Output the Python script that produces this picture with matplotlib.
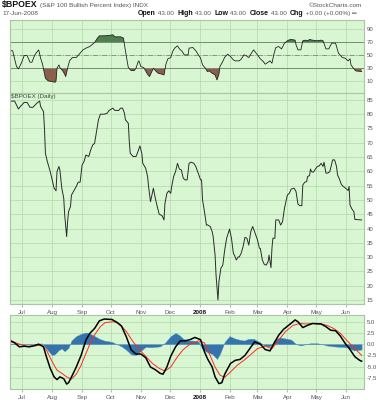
import matplotlib
matplotlib.use('Agg')
import matplotlib.pyplot as plt
import matplotlib.dates as mdates
import pandas as pd
import numpy as np

plt.rcParams['font.family'] = ['Liberation Sans', 'DejaVu Sans']

# ---------------- data ----------------
main_dates = ['2007-06-18','2007-06-23','2007-06-27','2007-06-29','2007-07-03','2007-07-06','2007-07-09','2007-07-12',
 '2007-07-16','2007-07-19','2007-07-20','2007-07-23','2007-07-24','2007-07-25','2007-07-27','2007-07-30','2007-08-01',
 '2007-08-03','2007-08-05','2007-08-06','2007-08-08','2007-08-09','2007-08-11','2007-08-13','2007-08-14','2007-08-16',
 '2007-08-17','2007-08-18','2007-08-20','2007-08-21','2007-08-24','2007-08-26','2007-08-28','2007-08-30','2007-09-01',
 '2007-09-03','2007-09-05','2007-09-08','2007-09-10','2007-09-12','2007-09-14','2007-09-16','2007-09-18','2007-09-20',
 '2007-09-24','2007-09-27','2007-09-29','2007-10-03','2007-10-05','2007-10-09','2007-10-11','2007-10-13','2007-10-15',
 '2007-10-16','2007-10-19','2007-10-20','2007-10-21','2007-10-24','2007-10-27','2007-10-29','2007-10-31','2007-11-02',
 '2007-11-03','2007-11-06','2007-11-08','2007-11-09','2007-11-11','2007-11-14','2007-11-16','2007-11-18','2007-11-20',
 '2007-11-23','2007-11-25','2007-11-26','2007-11-28','2007-11-30','2007-12-02','2007-12-03','2007-12-05','2007-12-07',
 '2007-12-09','2007-12-11','2007-12-13','2007-12-15','2007-12-17','2007-12-19','2007-12-21','2007-12-23','2007-12-26',
 '2007-12-28','2008-01-02','2008-01-03','2008-01-04','2008-01-06','2008-01-08','2008-01-09','2008-01-12','2008-01-14',
 '2008-01-15','2008-01-17','2008-01-18','2008-01-20','2008-01-21','2008-01-23','2008-01-25','2008-01-27','2008-01-29',
 '2008-02-01','2008-02-03','2008-02-05','2008-02-06','2008-02-08','2008-02-10','2008-02-11','2008-02-13','2008-02-15',
 '2008-02-17','2008-02-19','2008-02-21','2008-02-23','2008-02-25','2008-02-27','2008-03-01','2008-03-03','2008-03-04',
 '2008-03-06','2008-03-08','2008-03-10','2008-03-12','2008-03-13','2008-03-15','2008-03-16','2008-03-17','2008-03-19',
 '2008-03-20','2008-03-23','2008-03-25','2008-03-27','2008-03-29','2008-04-01','2008-04-03','2008-04-05','2008-04-08',
 '2008-04-10','2008-04-12','2008-04-14','2008-04-16','2008-04-17','2008-04-19','2008-04-21','2008-04-22','2008-04-24',
 '2008-04-25','2008-04-26','2008-04-28','2008-05-02','2008-05-04','2008-05-06','2008-05-08','2008-05-09','2008-05-11',
 '2008-05-13','2008-05-15','2008-05-18','2008-05-20','2008-05-22','2008-05-23','2008-05-25','2008-05-27','2008-05-29',
 '2008-05-30','2008-06-03','2008-06-04','2008-06-05','2008-06-07','2008-06-09','2008-06-10','2008-06-17']
main_vals = [84.5,84.6,81.8,82.7,84.1,84.1,82.4,82.4,
 83.8,84.6,82.7,80.9,75.1,66.3,63.4,59.9,57.0,
 54.1,53.2,59.9,61.7,60.5,54.1,50.6,44.7,37.2,
 42.4,45.9,47.7,51.7,53.5,54.7,56.2,56.2,62.2,
 63.4,65.7,65.2,67.5,69.2,69.8,73.9,78.0,80.0,
 80.0,80.3,81.3,82.1,81.3,81.3,82.1,82.1,80.3,
 78.0,76.8,70.4,66.3,65.2,65.2,66.9,68.9,66.3,
 62.8,61.1,58.2,54.7,49.4,54.1,50.6,47.7,45.0,
 44.5,43.0,48.8,52.3,53.2,52.3,54.7,58.2,59.9,
 62.8,60.8,60.5,57.6,57.0,57.0,62.8,63.2,62.8,
 61.7,57.0,57.0,50.0,45.9,41.2,41.3,40.7,38.9,
 37.2,30.7,23.7,15.0,21.4,26.1,27.2,32.5,36.6,
 39.8,36.6,31.3,30.7,29.0,30.1,30.0,31.3,33.6,
 36.9,36.6,34.2,38.9,40.7,38.9,36.0,33.1,33.0,
 29.0,27.5,27.2,28.4,30.7,26.3,33.1,36.6,36.6,
 43.0,43.0,41.2,42.4,47.1,51.7,52.3,53.8,54.1,
 52.9,48.5,48.0,48.0,55.2,56.2,56.4,58.2,58.5,
 60.8,59.9,59.7,61.7,61.9,62.8,61.7,63.2,59.4,
 59.4,59.9,64.0,64.0,61.7,58.8,57.3,55.4,54.7,
 54.5,53.3,54.7,48.2,46.8,45.9,43.2,43.0]

rsi_dates = ['2007-06-18','2007-06-21','2007-06-25','2007-06-27','2007-06-30','2007-07-03','2007-07-06','2007-07-09',
 '2007-07-11','2007-07-14','2007-07-16','2007-07-18','2007-07-20','2007-07-22','2007-07-25','2007-07-28','2007-08-01',
 '2007-08-04','2007-08-05','2007-08-06','2007-08-08','2007-08-09','2007-08-12','2007-08-14','2007-08-15','2007-08-17',
 '2007-08-19','2007-08-22','2007-08-26','2007-08-29','2007-09-02','2007-09-05','2007-09-09','2007-09-12','2007-09-14',
 '2007-09-17','2007-09-19','2007-09-24','2007-09-29','2007-10-03','2007-10-05','2007-10-11','2007-10-14','2007-10-15',
 '2007-10-17','2007-10-19','2007-10-22','2007-10-25','2007-10-27','2007-10-29','2007-10-30','2007-11-01','2007-11-04',
 '2007-11-06','2007-11-08','2007-11-10','2007-11-12','2007-11-14','2007-11-17','2007-11-19','2007-11-23','2007-11-25',
 '2007-11-27','2007-11-29','2007-12-02','2007-12-04','2007-12-06','2007-12-09','2007-12-11','2007-12-14','2007-12-16',
 '2007-12-20','2007-12-21','2007-12-25','2007-12-28','2008-01-02','2008-01-04','2008-01-07','2008-01-09','2008-01-11',
 '2008-01-14','2008-01-17','2008-01-19','2008-01-21','2008-01-22','2008-01-25','2008-01-27','2008-01-30','2008-02-02',
 '2008-02-05','2008-02-07','2008-02-11','2008-02-13','2008-02-16','2008-02-18','2008-02-21','2008-02-23','2008-02-26',
 '2008-03-01','2008-03-04','2008-03-07','2008-03-09','2008-03-12','2008-03-14','2008-03-16','2008-03-18','2008-03-20',
 '2008-03-23','2008-03-26','2008-03-29','2008-04-02','2008-04-05','2008-04-09','2008-04-10','2008-04-12','2008-04-15',
 '2008-04-17','2008-04-20','2008-04-22','2008-04-24','2008-04-27','2008-05-02','2008-05-06','2008-05-08','2008-05-11',
 '2008-05-14','2008-05-17','2008-05-21','2008-05-24','2008-05-28','2008-05-31','2008-06-03','2008-06-05','2008-06-06',
 '2008-06-08','2008-06-11','2008-06-17']
rsi_vals = [58.0,56.7,32.6,29.0,37.7,49.5,49.5,39.2,
 39.2,50.5,54.6,58.2,45.4,36.2,14.6,10.5,9.5,
 8.5,10.5,30.0,35.1,31.0,25.9,20.8,17.2,30.0,
 41.3,46.4,46.4,51.5,58.2,60.8,63.3,66.9,69.5,
 76.2,79.7,79.7,80.3,81.3,78.2,78.2,76.2,65.9,
 47.9,31.0,26.4,26.4,30.0,39.2,41.3,32.6,31.0,
 25.9,20.8,17.2,23.8,30.0,24.9,22.3,20.8,19.7,
 36.2,44.4,46.4,55.6,60.8,64.4,59.7,55.6,50.5,
 50.5,60.8,61.8,56.7,45.4,35.1,30.0,24.9,25.9,
 22.3,19.7,12.0,20.8,32.6,40.3,46.9,51.5,47.9,
 42.8,41.3,41.3,43.8,50.5,49.5,46.4,51.5,58.2,
 50.5,44.4,40.3,36.2,39.2,41.3,37.7,51.5,61.8,
 63.3,59.7,68.5,73.1,74.1,73.1,65.9,58.2,58.2,
 72.1,73.1,72.1,74.1,73.1,72.1,73.1,72.1,59.7,
 59.7,68.5,68.5,53.1,46.4,45.4,41.3,44.4,35.1,
 31.0,25.9,24.9]

macd_dates = ['2007-06-18','2007-06-23','2007-06-28','2007-07-03','2007-07-08','2007-07-13','2007-07-18','2007-07-23',
 '2007-07-26','2007-07-30','2007-08-03','2007-08-06','2007-08-09','2007-08-13','2007-08-16','2007-08-18','2007-08-22',
 '2007-08-26','2007-08-31','2007-09-05','2007-09-09','2007-09-14','2007-09-19','2007-09-24','2007-10-02','2007-10-07',
 '2007-10-12','2007-10-17','2007-10-22','2007-10-27','2007-11-01','2007-11-06','2007-11-11','2007-11-16','2007-11-21',
 '2007-11-24','2007-11-28','2007-12-02','2007-12-07','2007-12-12','2007-12-17','2007-12-22','2007-12-27','2008-01-02',
 '2008-01-06','2008-01-09','2008-01-14','2008-01-17','2008-01-21','2008-01-24','2008-01-27','2008-02-02','2008-02-07',
 '2008-02-12','2008-02-17','2008-02-22','2008-02-27','2008-03-04','2008-03-09','2008-03-14','2008-03-18','2008-03-23',
 '2008-03-28','2008-04-04','2008-04-09','2008-04-12','2008-04-17','2008-04-22','2008-04-27','2008-05-06','2008-05-11',
 '2008-05-16','2008-05-21','2008-05-26','2008-05-31','2008-06-05','2008-06-10','2008-06-15','2008-06-17']
macd_vals = [0.74,0.3,-0.6,-0.45,-0.6,-0.37,0.0,-0.6,
 -2.8,-5.4,-7.3,-7.9,-7.3,-7.7,-8.9,-8.6,-6.9,
 -5.1,-2.5,0.9,2.4,3.5,5.2,5.6,5.5,4.9,
 4.0,1.6,-1.3,-2.2,-2.2,-3.0,-5.1,-5.7,-6.5,
 -6.7,-5.1,-2.7,-0.6,0.74,0.74,1.0,1.5,1.0,
 -1.7,-3.2,-5.1,-7.3,-8.8,-8.6,-6.7,-4.3,-3.6,
 -3.4,-2.5,-1.0,0.5,0.0,-1.2,-1.5,0.15,2.0,
 3.3,4.5,5.4,5.0,3.7,4.2,4.6,4.5,3.9,
 3.1,3.0,1.8,0.15,-1.2,-2.8,-3.6,-3.8]

signal_dates = ['2007-06-18','2007-06-24','2007-07-05','2007-07-15','2007-07-21','2007-07-26','2007-08-01','2007-08-06',
 '2007-08-11','2007-08-16','2007-08-21','2007-08-26','2007-08-31','2007-09-05','2007-09-10','2007-09-15','2007-09-20',
 '2007-09-25','2007-10-04','2007-10-10','2007-10-17','2007-10-24','2007-10-31','2007-11-06','2007-11-13','2007-11-20',
 '2007-11-26','2007-12-02','2007-12-09','2007-12-15','2007-12-22','2007-12-31','2008-01-06','2008-01-11','2008-01-17',
 '2008-01-22','2008-01-27','2008-02-02','2008-02-09','2008-02-16','2008-02-22','2008-03-01','2008-03-09','2008-03-16',
 '2008-03-23','2008-03-30','2008-04-07','2008-04-14','2008-04-20','2008-04-27','2008-05-06','2008-05-12','2008-05-19',
 '2008-05-26','2008-06-02','2008-06-09','2008-06-17']
signal_vals = [1.0,0.3,-0.45,-0.37,-0.2,-1.3,-3.9,-5.8,
 -6.5,-7.3,-7.8,-6.7,-4.7,-2.1,0.5,2.4,3.9,
 4.8,5.0,4.5,2.8,0.5,-1.3,-2.7,-4.3,-5.4,
 -6.0,-5.1,-2.8,-1.2,0.0,0.74,0.3,-2.1,-5.1,
 -6.9,-7.4,-6.2,-4.7,-3.6,-2.5,-1.0,-0.45,-1.0,
 0.9,2.8,4.2,4.6,4.5,4.6,4.5,4.2,3.5,
 2.4,0.74,-0.74,-2.5]

hist_dates = ['2007-06-18','2007-07-01','2007-07-15','2007-07-21','2007-07-26','2007-08-01','2007-08-04','2007-08-08',
 '2007-08-11','2007-08-14','2007-08-18','2007-08-21','2007-08-26','2007-08-31','2007-09-05','2007-09-09','2007-09-14',
 '2007-09-19','2007-09-24','2007-10-02','2007-10-07','2007-10-12','2007-10-17','2007-10-22','2007-10-27','2007-11-01',
 '2007-11-06','2007-11-11','2007-11-16','2007-11-21','2007-11-26','2007-12-02','2007-12-07','2007-12-11','2007-12-15',
 '2007-12-20','2007-12-25','2007-12-31','2008-01-04','2008-01-09','2008-01-14','2008-01-19','2008-01-22','2008-01-27',
 '2008-02-01','2008-02-06','2008-02-11','2008-02-16','2008-02-21','2008-02-26','2008-03-03','2008-03-08','2008-03-13',
 '2008-03-16','2008-03-19','2008-03-24','2008-03-29','2008-04-05','2008-04-10','2008-04-15','2008-04-20','2008-04-25',
 '2008-05-02','2008-05-07','2008-05-12','2008-05-19','2008-05-26','2008-06-02','2008-06-09','2008-06-17']
hist_vals = [0.1,0.05,-0.1,0.2,-1.0,-2.5,-2.2,-1.3,
 -1.0,-1.6,-0.8,0.8,1.8,2.3,2.6,2.4,1.8,
 1.2,0.8,0.5,0.0,-0.5,-1.3,-2.3,-2.4,-1.5,
 -0.6,-0.7,-0.6,-0.5,0.3,1.8,2.5,2.0,1.2,
 0.8,0.8,0.5,-1.2,-1.8,-2.2,-3.3,-2.2,0.5,
 1.8,1.3,1.0,0.8,1.2,1.2,0.5,-0.3,-0.5,
 -0.2,1.0,1.5,1.3,1.0,0.0,-0.3,0.0,0.2,
 0.2,0.0,-0.3,-0.5,-0.6,-0.7,-1.4,-1.2]

main_ticks = [15, 20, 25, 30, 35, 40, 45, 50, 55, 60, 65, 70, 75, 80, 85]
rsi_ticks = [10, 30, 50, 70, 90]
macd_ticks = [-7.5, -5.0, -2.5, 0.0, 2.5, 5.0]

# ---------------- figure ----------------
W, H = 388, 400
fig = plt.figure(figsize=(W / 100, H / 100), dpi=100)
fig.patch.set_facecolor('white')

PANEL = '#d9f6d3'
GRID = '#b9dcb1'
SPINE = '#a9c6a2'
TXT = '#555555'
x0, x1 = 10, 364


def add_panel(ytop, ybot):
    ax = fig.add_axes([x0 / W, 1 - ybot / H, (x1 - x0) / W, (ybot - ytop) / H])
    ax.set_facecolor(PANEL)
    for s in ax.spines.values():
        s.set_color(SPINE)
        s.set_linewidth(0.8)
    ax.yaxis.tick_right()
    ax.tick_params(axis='y', length=0, labelsize=4.3, labelcolor=TXT, pad=2)
    ax.tick_params(axis='x', length=2, color=SPINE, labelsize=4.5, labelcolor=TXT, pad=2)
    ax.grid(True, color=GRID, linewidth=0.6)
    ax.set_axisbelow(True)
    ax.set_xlim(pd.Timestamp('2007-06-18 06:00'), pd.Timestamp('2008-06-19 12:00'))
    ax.xaxis.set_major_locator(mdates.MonthLocator())
    return ax


def month_fmt(x, pos=None):
    d = mdates.num2date(x)
    return str(d.year) if d.month == 1 else d.strftime('%b')


def style_xlabels(ax):
    ax.xaxis.set_major_formatter(plt.FuncFormatter(month_fmt))
    for lab in ax.get_xticklabels():
        if lab.get_text().isdigit():
            lab.set_fontweight('bold')
            lab.set_color('#111111')


md = pd.to_datetime(main_dates)
rd = pd.to_datetime(rsi_dates)
mcd = pd.to_datetime(macd_dates)
sd = pd.to_datetime(signal_dates)
hd = pd.to_datetime(hist_dates)

# RSI panel
ax_r = add_panel(20, 93)
ax_r.set_ylim(-8, 104)
ax_r.set_yticks(rsi_ticks)
ax_r.set_yticklabels([str(t) for t in rsi_ticks])
rv = np.array(rsi_vals)
ax_r.fill_between(rd, rv, 70, where=rv > 70, interpolate=True, color='#4f8050', lw=0)
ax_r.fill_between(rd, rv, 30, where=rv < 30, interpolate=True, color='#8c5e4c', lw=0)
ax_r.axhline(70, color='#7a8a78', lw=0.7)
ax_r.axhline(30, color='#7a8a78', lw=0.7)
ax_r.axhline(50, color='#7a8a78', lw=0.6, ls=(0, (6, 2, 1, 2)))
ax_r.plot(rd, rv, color='#222222', lw=0.6)
ax_r.tick_params(axis='x', labelbottom=False, length=0)

# main panel
ax_m = add_panel(93, 304)
ax_m.set_ylim(13.6, 87.4)
ax_m.set_yticks(main_ticks)
ax_m.set_yticklabels([str(t) for t in main_ticks])
ax_m.plot(md, main_vals, color='#2b2b2b', lw=0.7)
style_xlabels(ax_m)
ax_m.text(0.003, 0.995, '$BPOEX (Daily)', transform=ax_m.transAxes, ha='left', va='top',
          fontsize=4.5, color='#444444')

# MACD panel
ax_c = add_panel(315, 389)
ax_c.set_ylim(-10, 6.5)
ax_c.set_yticks(macd_ticks)
ax_c.set_yticklabels(['%.1f' % t for t in macd_ticks])
ax_c.fill_between(hd, hist_vals, 0, color='#3473ab', lw=0.3, edgecolor='#5d94c4')
ax_c.plot(sd, signal_vals, color='#ff2a1a', lw=0.7)
ax_c.plot(mcd, macd_vals, color='#000000', lw=1.1)
style_xlabels(ax_c)

# ---------------- header ----------------
fig.canvas.draw()
rend = fig.canvas.get_renderer()


def put(x, y, s, **kw):
    t = fig.text(x / W, 1 - y / H, s, va='center', ha='left', **kw)
    bb = t.get_window_extent(renderer=rend)
    return x + bb.width


xx = put(2, 5, '$BPOEX', fontsize=6.3, fontweight='bold', color='#111111')
put(xx + 2, 5.3, '(S&P 100 Bullish Percent Index) INDX', fontsize=4.6, color='#555555')
fig.text(362 / W, 1 - 5.3 / H, '\u00a9StockCharts.com', ha='right', va='center', fontsize=4.6, color='#555555')
put(2, 13.5, '17-Jun-2008', fontsize=4.6, color='#555555')

pieces = [('Open', True), (' 43.00  ', False), ('High', True), (' 43.00  ', False), ('Low', True),
          (' 43.00  ', False), ('Close', True), (' 43.00  ', False), ('Chg', True), (' +0.00 (+0.00%) \u2550', False)]
xx = 138
for s, b in pieces:
    if b:
        xx = put(xx, 13.5, s, fontsize=5.0, fontweight='bold', color='#111111')
    else:
        xx = put(xx, 13.5, s, fontsize=4.6, color='#555555')

fig.savefig('out.png', dpi=100, facecolor='white')
